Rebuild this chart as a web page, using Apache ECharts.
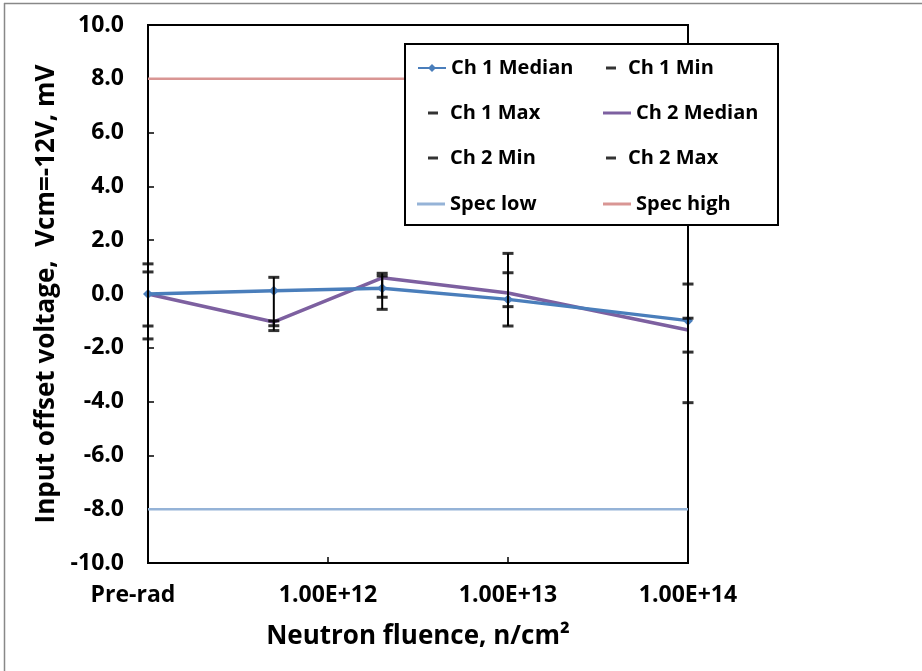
<!DOCTYPE html>
<html>
<head>
<meta charset="utf-8">
<script src="https://cdn.jsdelivr.net/npm/echarts@6/dist/echarts.min.js"></script>
<style>
  html, body { margin: 0; padding: 0; background: #fff; }
  #chart { width: 922px; height: 671px; }
</style>
</head>
<body>
<div id="chart"></div>
<script>
// fluence (n/cm2); pre-rad sits at the left edge of the log axis
var fluence = [1e11, 5e11, 2e12, 1e13, 1e14];
var ch1Median = [0, 0.12, 0.21, -0.2, -0.99];
var ch1Min = [-1.19, -1.18, -0.57, -0.47, -2.16];
var ch1Max = [0.82, 0.62, 0.67, 0.79, 0.37];
var ch2Median = [0, -1.04, 0.6, 0.04, -1.34];
var ch2Min = [-1.67, -1.36, -0.12, -1.19, -4.04];
var ch2Max = [1.12, -1.0, 0.77, 1.51, -0.9];
var specLow = [-8, -8, -8, -8, -8];
var specHigh = [8, 8, 8, 8, 8];
var xTickLabels = { 11: 'Pre-rad', 12: '1.00E+12', 13: '1.00E+13', 14: '1.00E+14' };

var FONT = 'Open Sans';
var BLUE = '#4a7ebb', PURPLE = '#7d60a0', SPEC_LOW = '#95b3d7', SPEC_HIGH = '#d99694';

function pairs(vals) {
  return fluence.map(function (x, i) { return [x, vals[i]]; });
}
function bars(lo, hi) {
  return fluence.map(function (x, i) { return [x, lo[i], hi[i]]; });
}

var chart = echarts.init(document.getElementById('chart'), null, { renderer: 'canvas' });

function errBar(params, api) {
  var x = api.value(0);
  var p1 = api.coord([x, api.value(1)]);
  var p2 = api.coord([x, api.value(2)]);
  return {
    type: 'line',
    shape: { x1: p1[0], y1: p1[1], x2: p2[0], y2: p2[1] },
    style: { stroke: '#000', lineWidth: 2 }
  };
}

function dashSeries(name, vals) {
  return {
    name: name, type: 'scatter', data: pairs(vals),
    symbol: 'rect', symbolSize: [11, 3], clip: false, z: 5,
    itemStyle: { color: '#000' }
  };
}

// one legend block per entry so the two columns line up like the original
function legendItem(name, left, rowY, kind) {
  var l = {
    data: [{ name: name }], left: left, top: rowY - 9, padding: 0,
    orient: 'horizontal', z: 20, selectedMode: false,
    textStyle: { fontFamily: FONT, fontWeight: 'bold', fontSize: 20, color: '#000' }
  };
  if (kind === 'dash') {
    l.itemWidth = 10; l.itemHeight = 3;
    l.data[0].icon = 'rect';
    l.textStyle.padding = [0, 0, 0, 7];
  } else if (kind === 'marker') {
    l.itemWidth = 28; l.itemHeight = 10;
  } else {
    l.itemWidth = 28; l.itemHeight = 3;
    l.data[0].icon = 'rect';
  }
  return l;
}

var option = {
  backgroundColor: '#fff',
  animation: false,
  grid: {
    left: 148, right: 234, top: 25, bottom: 108,
    show: true, borderColor: '#000', borderWidth: 2, backgroundColor: 'transparent'
  },
  graphic: [
    { type: 'line', shape: { x1: 4, y1: 3.5, x2: 922, y2: 3.5 }, style: { stroke: '#888', lineWidth: 1.5 }, z: 1 },
    { type: 'line', shape: { x1: 4.5, y1: 3, x2: 4.5, y2: 671 }, style: { stroke: '#888', lineWidth: 1.5 }, z: 1 },
    { type: 'rect', shape: { x: 405, y: 44, width: 373, height: 181 }, style: { fill: '#fff', stroke: '#000', lineWidth: 2 }, z: 10 }
  ],
  legend: [
    legendItem('Ch 1 Median', 417, 67, 'marker'),
    legendItem('Ch 1 Min', 606, 67, 'dash'),
    legendItem('Ch 1 Max', 428, 112, 'dash'),
    legendItem('Ch 2 Median', 603, 112, 'line'),
    legendItem('Ch 2 Min', 428, 157, 'dash'),
    legendItem('Ch 2 Max', 606, 157, 'dash'),
    legendItem('Spec low', 417, 203, 'line'),
    legendItem('Spec high', 603, 203, 'line')
  ],
  xAxis: {
    type: 'log', logBase: 10, min: 1e11, max: 1e14,
    name: 'Neutron fluence, n/cm²', nameLocation: 'middle', nameGap: 61,
    nameTextStyle: { fontFamily: FONT, fontWeight: 'bold', fontSize: 26, color: '#000' },
    axisLine: { onZero: false, lineStyle: { color: '#000', width: 2 } },
    axisTick: { inside: true, length: 6, lineStyle: { color: '#000', width: 1.5 } },
    minorTick: { show: false },
    splitLine: { show: false },
    axisLabel: {
      margin: 21, showMinLabel: true, showMaxLabel: true,
      fontFamily: FONT, fontWeight: 'bold', fontSize: 23, color: '#000',
      formatter: function (v) {
        var e = Math.round(Math.log(v) / Math.LN10);
        if (e === 11) return '{pre|' + xTickLabels[e] + '}';
        return xTickLabels[e] || '';
      },
      rich: { pre: { fontFamily: FONT, fontWeight: 'bold', fontSize: 23, color: '#000', padding: [0, 30, 0, 0] } }
    }
  },
  yAxis: {
    type: 'value', min: -10, max: 10, interval: 2,
    name: 'Input offset voltage,  Vcm=-12V, mV', nameLocation: 'middle', nameGap: 88,
    nameTextStyle: { fontFamily: FONT, fontWeight: 'bold', fontSize: 26, color: '#000' },
    axisLine: { show: true, onZero: false, lineStyle: { color: '#000', width: 2 } },
    axisTick: { show: true, inside: true, length: 6, lineStyle: { color: '#000', width: 1.5 } },
    splitLine: { show: false },
    axisLabel: {
      margin: 24, fontFamily: FONT, fontWeight: 'bold', fontSize: 23, color: '#000',
      formatter: function (v) { return v.toFixed(1); }
    }
  },
  series: [
    {
      name: 'Spec low', type: 'line', data: pairs(specLow), symbol: 'none', z: 2,
      lineStyle: { color: SPEC_LOW, width: 2.5 }, itemStyle: { color: SPEC_LOW }
    },
    {
      name: 'Spec high', type: 'line', data: pairs(specHigh), symbol: 'none', z: 2,
      lineStyle: { color: SPEC_HIGH, width: 2.5 }, itemStyle: { color: SPEC_HIGH }
    },
    {
      name: 'Ch 2 Median', type: 'line', data: pairs(ch2Median), symbol: 'none', z: 3,
      lineStyle: { color: PURPLE, width: 3.5 }, itemStyle: { color: PURPLE }
    },
    {
      name: 'Ch 1 Median', type: 'line', data: pairs(ch1Median), z: 3,
      symbol: 'diamond', symbolSize: 10, showSymbol: true,
      lineStyle: { color: BLUE, width: 3.5 }, itemStyle: { color: BLUE }
    },
    { type: 'custom', name: 'ch1 err', data: bars(ch1Min, ch1Max), renderItem: errBar, encode: { x: 0, y: [1, 2] }, z: 4, clip: false },
    { type: 'custom', name: 'ch2 err', data: bars(ch2Min, ch2Max), renderItem: errBar, encode: { x: 0, y: [1, 2] }, z: 4, clip: false },
    dashSeries('Ch 1 Min', ch1Min),
    dashSeries('Ch 1 Max', ch1Max),
    dashSeries('Ch 2 Min', ch2Min),
    dashSeries('Ch 2 Max', ch2Max)
  ]
};

chart.setOption(option);
</script>
</body>
</html>
